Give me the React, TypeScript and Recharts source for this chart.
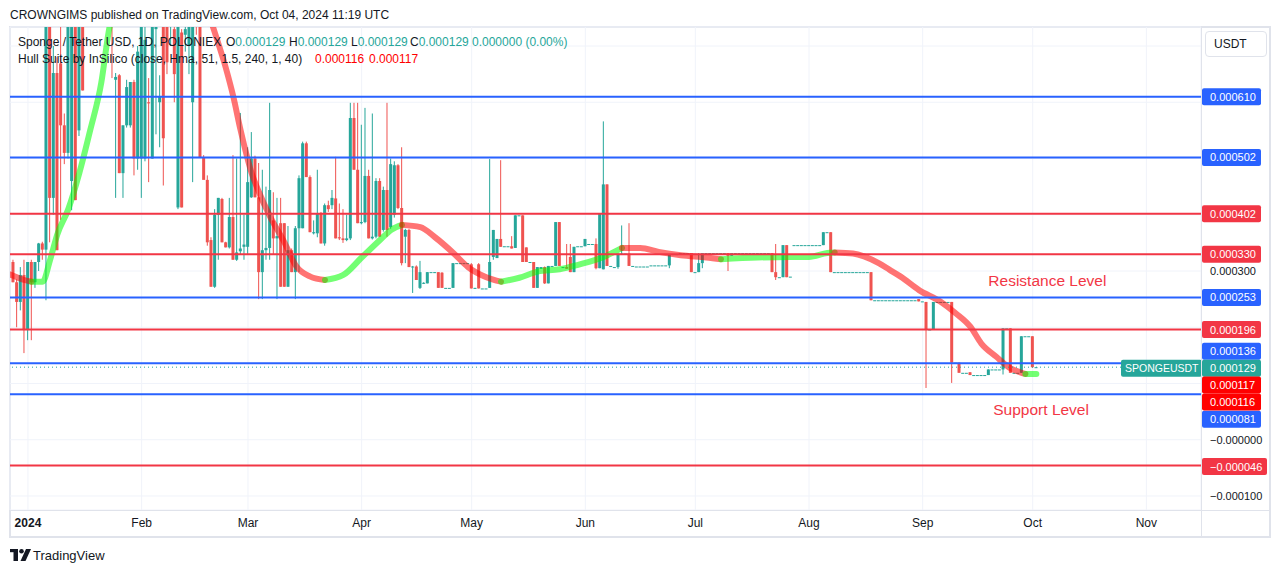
import React from 'react';
import {
  ComposedChart,
  Bar,
  Line,
  XAxis,
  YAxis,
  CartesianGrid,
  ReferenceLine,
  ReferenceDot,
} from 'recharts';

// All prices below are expressed in millionths of USDT (129 => 0.000129)
const UNIT = 1e-6;

// Daily candles: [day (0 = Jan 1 2024), open, high, low, close]
const candles: [number, number, number, number, number][] = [
  [-4, 316, 320, 280, 280], [-3, 280, 285, 200, 245], [-2, 245, 307, 230, 293], [-1, 293, 320, 154, 195],
  // January
  [0, 195, 316, 177, 316], [1, 316, 320, 177, 280], [2, 280, 316, 270, 316], [3, 316, 350, 300, 349],
  [4, 349, 352, 320, 338], [5, 338, 780, 248, 780], [6, 780, 790, 351, 430], [7, 430, 700, 400, 652],
  [8, 652, 680, 337, 337], [9, 669, 760, 391, 559], [10, 559, 580, 490, 510], [11, 510, 780, 500, 760],
  [12, 460, 790, 408, 770], [13, 780, 790, 426, 426], [14, 550, 790, 540, 780], [15, 780, 790, 621, 621],
  [16, 780, 880, 760, 860], [17, 860, 900, 800, 820], [18, 820, 950, 800, 930], [19, 930, 960, 850, 870],
  [20, 870, 1000, 860, 980], [21, 980, 1000, 900, 920], [22, 920, 950, 780, 800], [23, 760, 780, 643, 750],
  [24, 640, 652, 430, 645], [25, 648, 650, 474, 474], [26, 474, 559, 430, 559], [27, 559, 640, 555, 627],
  [28, 559, 636, 555, 636], [29, 636, 640, 470, 500], [30, 500, 700, 480, 690],
  // February
  [31, 500, 790, 430, 780], [32, 500, 790, 495, 711], [33, 600, 643, 458, 598], [34, 500, 790, 500, 780],
  [35, 730, 790, 543, 760], [36, 600, 648, 520, 610], [37, 780, 790, 452, 536], [38, 780, 790, 650, 671],
  [39, 740, 790, 700, 780], [40, 730, 760, 600, 650], [41, 413, 790, 410, 780], [42, 724, 730, 413, 413],
  [43, 720, 740, 690, 730], [44, 700, 760, 650, 740], [45, 600, 790, 458, 760], [46, 780, 790, 720, 760],
  [47, 780, 790, 502, 502], [48, 502, 506, 470, 462], [49, 462, 470, 345, 351], [50, 355, 360, 272, 272],
  [51, 272, 410, 270, 400], [52, 400, 430, 320, 430], [53, 428, 430, 351, 351], [54, 351, 352, 342, 342],
  [55, 342, 430, 340, 396], [56, 396, 506, 320, 320], [57, 320, 500, 318, 333], [58, 335, 581, 330, 340],
  [59, 343, 400, 320, 347],
  // March
  [60, 343, 520, 330, 458], [61, 431, 547, 430, 500], [62, 500, 505, 431, 431], [63, 431, 492, 250, 298],
  [64, 298, 480, 250, 337], [65, 337, 450, 320, 341], [66, 341, 599, 320, 444], [67, 390, 440, 330, 358],
  [68, 358, 430, 250, 362], [69, 385, 430, 272, 272], [70, 385, 385, 272, 272], [71, 272, 380, 272, 337],
  [72, 337, 340, 298, 298], [73, 298, 380, 250, 376], [74, 376, 470, 298, 465], [75, 376, 530, 376, 527],
  [76, 527, 530, 467, 467], [77, 467, 470, 369, 369], [78, 367, 390, 365, 369], [79, 367, 480, 360, 403],
  [80, 403, 405, 349, 349], [81, 349, 420, 345, 417], [82, 417, 425, 405, 410], [83, 417, 444, 410, 430],
  [84, 429, 503, 358, 358], [85, 360, 420, 355, 358], [86, 358, 410, 350, 355], [87, 355, 400, 353, 358],
  [88, 358, 599, 355, 572], [89, 572, 599, 480, 480], [90, 480, 599, 385, 385],
  // April
  [91, 385, 560, 383, 387], [92, 387, 590, 385, 469], [93, 469, 480, 358, 358], [94, 358, 580, 356, 361],
  [95, 361, 465, 358, 460], [96, 460, 465, 361, 361], [97, 373, 450, 370, 444], [98, 444, 599, 361, 373],
  [99, 378, 500, 375, 490], [100, 400, 495, 395, 488], [101, 488, 490, 410, 412], [102, 412, 520, 310, 314],
  [103, 361, 375, 314, 373], [104, 373, 375, 307, 307], [105, 307, 309, 261, 308], [106, 308, 310, 284, 284],
  [107, 270, 318, 268, 298], [108, 278, 280, 277, 279], [109, 278, 298, 278, 298], [110, 298, 298, 298, 298],
  [111, 298, 298, 297, 298], [112, 298, 298, 270, 270], [113, 297, 298, 270, 270], [114, 270, 270, 270, 270],
  [115, 270, 270, 270, 270], [116, 270, 314, 270, 314], [117, 314, 314, 314, 314], [118, 314, 314, 314, 314],
  [119, 314, 314, 314, 314], [120, 314, 314, 314, 314],
  // May
  [121, 312, 314, 269, 269], [122, 270, 270, 269, 270], [123, 312, 314, 269, 269], [124, 269, 269, 269, 269],
  [125, 269, 269, 269, 269], [126, 270, 499, 270, 316], [127, 325, 373, 320, 373], [128, 323, 357, 323, 357],
  [129, 357, 497, 343, 343], [130, 344, 344, 344, 344], [131, 344, 344, 344, 344], [132, 344, 362, 340, 340],
  [133, 341, 399, 341, 399], [134, 399, 399, 399, 399], [135, 399, 399, 316, 316], [136, 342, 342, 316, 316],
  [137, 316, 316, 316, 316], [138, 316, 316, 270, 270], [139, 270, 307, 270, 307], [140, 304, 307, 304, 307],
  [141, 307, 308, 277, 278], [142, 278, 309, 278, 309], [143, 309, 309, 309, 309], [144, 309, 387, 309, 387],
  [145, 387, 387, 309, 309], [146, 307, 307, 307, 307], [147, 307, 348, 304, 304], [148, 325, 348, 298, 298],
  [149, 298, 343, 298, 343], [150, 344, 344, 344, 344], [151, 344, 344, 344, 344],
  // June
  [152, 344, 357, 344, 357], [153, 348, 348, 348, 348], [154, 348, 348, 348, 348], [155, 348, 358, 303, 305],
  [156, 305, 403, 305, 403], [157, 303, 566, 303, 454], [158, 454, 454, 309, 309], [159, 309, 309, 309, 309],
  [160, 307, 307, 307, 307], [161, 307, 331, 304, 331], [162, 330, 381, 330, 331], [163, 331, 331, 331, 331],
  [164, 331, 385, 309, 309], [165, 309, 309, 309, 309], [166, 308, 308, 308, 308], [167, 308, 308, 308, 308],
  [168, 308, 308, 308, 308], [169, 308, 308, 308, 308], [170, 310, 310, 310, 310], [171, 310, 310, 310, 310],
  [172, 310, 310, 310, 310], [173, 310, 310, 310, 310], [174, 310, 310, 310, 310], [175, 310, 330, 305, 330],
  [176, 330, 330, 330, 330], [177, 330, 330, 330, 330], [178, 330, 332, 329, 332], [179, 332, 332, 332, 332],
  [180, 332, 332, 332, 332], [181, 332, 332, 298, 298],
  // July
  [182, 298, 298, 298, 298], [183, 298, 332, 298, 314], [184, 314, 332, 305, 332], [185, 332, 332, 332, 332],
  [186, 332, 332, 332, 332], [187, 332, 332, 332, 332], [188, 332, 332, 332, 332], [189, 332, 332, 332, 332],
  [190, 332, 332, 332, 332], [191, 332, 332, 300, 327], [192, 327, 332, 327, 332], [193, 332, 332, 332, 332],
  [194, 332, 332, 332, 332], [195, 332, 332, 332, 332], [196, 332, 332, 332, 332], [197, 332, 332, 332, 332],
  [198, 332, 332, 332, 332], [199, 332, 332, 332, 332], [200, 332, 332, 332, 332], [201, 332, 332, 332, 332],
  [202, 332, 332, 332, 332], [203, 332, 332, 298, 298], [204, 298, 348, 284, 289], [205, 289, 289, 289, 289],
  [206, 289, 346, 289, 346], [207, 346, 346, 289, 289], [208, 290, 290, 290, 290], [209, 346, 346, 346, 346],
  [210, 346, 346, 346, 346], [211, 346, 346, 346, 346], [212, 346, 346, 346, 346],
  // August
  [213, 346, 346, 346, 346], [214, 346, 346, 346, 346], [215, 346, 346, 346, 346], [216, 346, 346, 346, 346],
  [217, 346, 369, 346, 369], [218, 369, 369, 369, 369], [219, 369, 369, 298, 298], [220, 298, 298, 298, 298],
  [221, 298, 298, 298, 298], [222, 298, 298, 298, 298], [223, 298, 298, 298, 298], [224, 298, 298, 298, 298],
  [225, 298, 298, 298, 298], [226, 298, 298, 298, 298], [227, 298, 298, 298, 298], [228, 298, 298, 298, 298],
  [229, 298, 298, 298, 298], [230, 298, 298, 248, 248], [231, 248, 248, 248, 248], [232, 248, 248, 248, 248],
  [233, 248, 248, 248, 248], [234, 248, 248, 248, 248], [235, 248, 248, 248, 248], [236, 248, 248, 248, 248],
  [237, 248, 248, 248, 248], [238, 248, 248, 248, 248], [239, 248, 248, 248, 248], [240, 248, 248, 248, 248],
  [241, 248, 248, 248, 248], [242, 248, 248, 248, 248], [243, 250, 250, 246, 246],
  // September
  [244, 246, 246, 246, 246], [245, 245, 245, 92, 196], [246, 196, 196, 196, 196], [247, 196, 245, 196, 245],
  [248, 245, 245, 245, 245], [249, 245, 245, 245, 245], [250, 245, 245, 245, 245], [251, 245, 245, 245, 245],
  [252, 245, 245, 101, 137], [253, 137, 137, 137, 137], [254, 137, 137, 119, 119], [255, 119, 119, 119, 119],
  [256, 119, 119, 119, 119], [257, 120, 120, 115, 115], [258, 115, 115, 115, 115], [259, 115, 115, 115, 115],
  [260, 115, 115, 115, 115], [261, 115, 115, 115, 115], [262, 115, 125, 115, 125], [263, 125, 125, 125, 125],
  [264, 125, 125, 125, 125], [265, 125, 125, 125, 125], [266, 125, 198, 116, 198], [267, 198, 198, 198, 198],
  [268, 198, 198, 119, 119], [269, 119, 119, 119, 119], [270, 119, 119, 119, 119], [271, 119, 184, 119, 184],
  [272, 184, 184, 184, 184], [273, 184, 184, 184, 184],
  // October
  [274, 184, 184, 128, 129], [275, 129, 129, 129, 129],
];

// Hull Suite band, read as coloured segments (up = green, down = red)
const hullSegments: { trend: 'up' | 'down'; days: number[]; values: number[] }[] = [
  { trend: 'down', days: [-5, -3, -1, 1], values: [294, 289, 284, 281] },
  { trend: 'up', days: [1, 4, 6, 8, 11, 14, 17, 20, 22, 25, 30, 35, 38], values: [281, 281, 319, 365, 410, 474, 551, 635, 725, 800, 880, 920, 925] },
  { trend: 'down', days: [38, 42, 46, 51, 54, 56, 58, 61, 63, 66, 70, 73, 77, 81], values: [925, 900, 820, 723, 660, 610, 550, 474, 440, 397, 350, 310, 290, 284] },
  { trend: 'up', days: [81, 86, 91, 96, 99, 102], values: [284, 293, 324, 355, 373, 382] },
  { trend: 'down', days: [102, 107, 111, 116, 120, 125, 129], values: [382, 378, 360, 332, 307, 289, 281] },
  { trend: 'up', days: [129, 134, 139, 145, 150, 157, 162], values: [281, 288, 299, 303, 311, 325, 341] },
  { trend: 'down', days: [162, 167, 172, 178, 185, 189], values: [341, 341, 334, 328, 324, 321] },
  { trend: 'up', days: [189, 199, 208, 213, 218, 220], values: [321, 324, 325, 325, 332, 333] },
  { trend: 'down', days: [220, 225, 228, 232, 235, 238, 243, 249, 253, 257, 260, 264, 268, 271, 272], values: [333, 331, 326, 314, 302, 290, 266, 245, 225, 201, 171, 148, 127, 119, 117] },
  { trend: 'up', days: [272, 275], values: [117, 117] },
];
const hullLegendValues = [116, 117];

// Time axis
const monthTickDays = [0, 31, 60, 91, 121, 152, 182, 213, 244, 274, 305];
const monthTickLabels = ['2024', 'Feb', 'Mar', 'Apr', 'May', 'Jun', 'Jul', 'Aug', 'Sep', 'Oct', 'Nov'];

// Price axis
const priceTicks = [-100, 0, 100, 200, 300, 400, 500, 600, 700];
const shownPriceTickLabels = [-100, 0, 300];

// Horizontal levels drawn on the chart
const levelPrices = [610, 502, 402, 330, 253, 196, 136, 81, -46];
const levelKinds = ['blue', 'blue', 'red', 'red', 'blue', 'red', 'blue', 'blue', 'red'];

// ---------- styles ----------
const COLORS = {
  up: '#26a69a',
  down: '#ef5350',
  blue: '#2962ff',
  red: '#f23645',
  hull: '#ff0000',
  text: '#131722',
  grid: '#f0f3fa',
  frame: '#e0e3eb',
};
const levelTagShift = [0, 0, 0, 0, 0, 0, -12, 25, 1];
const hullTagShift = [27.5, 11];
const FONT = '"Liberation Sans", Arial, sans-serif';

const lastCandle = candles[candles.length - 1];
const lastClose = lastCandle[4];

const fmtPrice = (v: number) => (v < 0 ? '\u2212' : '') + (Math.abs(v) * UNIT).toFixed(6);
const fmtTick = (v: number) => (v <= 0 ? '\u2212' : '') + (Math.abs(v) * UNIT).toFixed(6);

// ---------- table ----------
type Row = { day: number; o?: number; h?: number; l?: number; c?: number; [k: string]: number | undefined };
const rowsByDay = new Map<number, Row>();
candles.forEach(([day, o, h, l, c]) => rowsByDay.set(day, { day, o, h, l, c }));
hullSegments.forEach((seg, s) => {
  seg.days.forEach((d, j) => {
    const r = rowsByDay.get(d) ?? { day: d };
    r[`hull${s}`] = seg.values[j];
    rowsByDay.set(d, r);
  });
});
const chartData = Array.from(rowsByDay.values()).sort((a, b) => a.day - b.day);

// ---------- shapes ----------
const Candle = (props: any) => {
  const { x, y, width, height, payload } = props;
  if (!payload || payload.o == null) return null;
  const { o, h, l, c } = payload as Required<Row>;
  const hEff = h > l ? h : h + 0.01;
  const top = Math.min(y, y + height);
  const hgt = Math.abs(height);
  const per = hgt / (hEff - l);
  const yOf = (v: number) => top + (hEff - v) * per;
  const color = c >= o ? COLORS.up : COLORS.down;
  const cx = x + width / 2;
  const bTop = yOf(Math.max(o, c));
  const bBot = yOf(Math.min(o, c));
  const bh = Math.max(1, bBot - bTop);
  return (
    <g>
      {h > l && <line x1={cx} x2={cx} y1={yOf(h)} y2={yOf(l)} stroke={color} strokeWidth={1} />}
      <rect x={x} y={bTop} width={width} height={bh} fill={color} />
    </g>
  );
};

const PriceTag = (props: any) => {
  const { viewBox, text, fill, shift = 0, wide = false, symbol } = props;
  if (!viewBox) return null;
  const x = viewBox.x + viewBox.width + 1;
  const cy = viewBox.y + shift;
  const w = wide ? 65 : 59;
  return (
    <g>
      {symbol && (
        <g>
          <rect x={x - 81} y={cy - 8.5} width={81} height={17} rx={2} fill={fill} />
          <text x={x - 77} y={cy} dominantBaseline="central" fill="#fff" fontSize={10.5} fontFamily={FONT}>
            {symbol}
          </text>
        </g>
      )}
      <rect x={x} y={cy - 8.5} width={w} height={17} rx={2} fill={fill} />
      <text x={x + 8} y={cy} dominantBaseline="central" fill="#fff" fontSize={11} fontFamily={FONT}>
        {text}
      </text>
    </g>
  );
};

const MonthTick = (props: any) => {
  const { x, y, payload } = props;
  const i = monthTickDays.indexOf(payload.value);
  const label = monthTickLabels[i] ?? '';
  return (
    <text
      x={x}
      y={y + 13}
      textAnchor="middle"
      dominantBaseline="central"
      fill={COLORS.text}
      fontSize={12}
      fontWeight={i === 0 ? 'bold' : 'normal'}
      fontFamily={FONT}
    >
      {label}
    </text>
  );
};

const PriceTick = (props: any) => {
  const { x, y, payload } = props;
  if (!shownPriceTickLabels.includes(payload.value)) return null;
  return (
    <text x={x} y={y} textAnchor="start" dominantBaseline="central" fill={COLORS.text} fontSize={11} fontFamily={FONT}>
      {fmtTick(payload.value)}
    </text>
  );
};

const TVLogo = () => (
  <svg width={22} height={12} viewBox="0 0 22 12" style={{ position: 'absolute', left: 10, top: 549 }}>
    <rect x={0} y={0} width={8} height={3.2} fill={COLORS.text} />
    <rect x={3.5} y={0} width={4.5} height={12} fill={COLORS.text} />
    <circle cx={11.5} cy={2.3} r={2.3} fill={COLORS.text} />
    <polygon points="16,0 21,0 15.5,12 10.5,12" fill={COLORS.text} />
  </svg>
);

const abs = (left: number, top: number, extra: React.CSSProperties = {}): React.CSSProperties => ({
  position: 'absolute',
  left,
  top,
  whiteSpace: 'pre',
  fontSize: 12,
  lineHeight: '14px',
  color: COLORS.text,
  fontFamily: FONT,
  ...extra,
});

export default function App() {
  const ohlcLabel = (letter: string, v: number, left: number) => (
    <div style={abs(left, 35)}>
      {letter}
      <span style={{ color: COLORS.up }}>{fmtPrice(v)}</span>
    </div>
  );
  const [, o, h, l, c] = lastCandle;
  return (
    <div style={{ position: 'absolute', left: 0, top: 0, width: 1281, height: 573, background: '#fff', fontFamily: FONT }}>
      <div style={abs(10, 8)}>CROWNGIMS published on TradingView.com, Oct 04, 2024 11:19 UTC</div>

      {/* frame */}
      <div style={{ position: 'absolute', left: 9, top: 26, width: 1262, height: 512, border: `2px solid ${COLORS.frame}`, boxSizing: 'border-box' }} />

      <div style={{ position: 'absolute', left: 0, top: 0 }}>
        <ComposedChart width={1281} height={573} data={chartData} margin={{ top: 27, right: 11, bottom: 36, left: 10 }}>
          <CartesianGrid stroke={COLORS.grid} />
          <XAxis
            dataKey="day"
            type="number"
            domain={[-4.9, 319.9]}
            allowDataOverflow
            ticks={monthTickDays}
            interval={0}
            height={27}
            axisLine={false}
            tickLine={false}
            tickSize={0}
            tickMargin={0}
            tick={<MonthTick />}
          />
          <YAxis
            orientation="right"
            type="number"
            domain={[-124.9, 733.8]}
            allowDataOverflow
            ticks={priceTicks}
            interval={0}
            width={69}
            axisLine={false}
            tickLine={false}
            tickSize={0}
            tickMargin={9}
            tick={<PriceTick />}
          />
          <Bar
            dataKey={(r: Row) => (r.o == null ? null : [r.l as number, (r.h as number) > (r.l as number) ? (r.h as number) : (r.h as number) + 0.01])}
            barSize={3}
            shape={(p: any) => <Candle {...p} />}
            isAnimationActive={false}
          />
          {hullSegments.map((seg, s) => (
            <Line
              key={`hull${s}`}
              dataKey={`hull${s}`}
              type="monotone"
              stroke={seg.trend === 'up' ? '#00ff00' : '#ff0000'}
              strokeOpacity={0.55}
              strokeWidth={6}
              strokeLinecap="round"
              dot={false}
              activeDot={false}
              connectNulls
              isAnimationActive={false}
            />
          ))}
          {levelPrices.map((p, i) => {
            const color = levelKinds[i] === 'blue' ? COLORS.blue : COLORS.red;
            return (
              <ReferenceLine
                key={`lvl${p}`}
                y={p}
                stroke={color}
                strokeWidth={2}
                label={<PriceTag text={fmtPrice(p)} fill={color} shift={levelTagShift[i]} wide={p < 0} />}
              />
            );
          })}
          <ReferenceLine
            y={lastClose}
            stroke={COLORS.up}
            strokeWidth={1}
            strokeDasharray="1 3"
            label={<PriceTag text={fmtPrice(lastClose)} fill={COLORS.up} shift={1} symbol="SPONGEUSDT" />}
          />
          {hullLegendValues.map((v, i) => (
            <ReferenceLine
              key={`hv${i}`}
              y={v}
              stroke="none"
              label={<PriceTag text={fmtPrice(v)} fill={COLORS.hull} shift={hullTagShift[i]} />}
            />
          ))}
          <ReferenceDot
            x={278}
            y={284}
            r={0}
            fill="none"
            stroke="none"
            ifOverflow="visible"
            label={{ value: 'Resistance Level', position: 'center', fill: COLORS.red, fontSize: 15.5, fontFamily: FONT }}
          />
          <ReferenceDot
            x={276.3}
            y={53}
            r={0}
            fill="none"
            stroke="none"
            ifOverflow="visible"
            label={{ value: 'Support Level', position: 'center', fill: COLORS.red, fontSize: 15.5, fontFamily: FONT }}
          />
        </ComposedChart>
      </div>

      {/* axis separators */}
      <div style={{ position: 'absolute', left: 10, top: 510, width: 1260, height: 1, background: COLORS.frame }} />
      <div style={{ position: 'absolute', left: 1201, top: 27, width: 1, height: 510, background: COLORS.frame }} />

      {/* legend */}
      <div style={abs(18, 35)}>Sponge / Tether USD, 1D, POLONIEX</div>
      {ohlcLabel('O', o, 226)}
      {ohlcLabel('H', h, 289)}
      {ohlcLabel('L', l, 351)}
      {ohlcLabel('C', c, 410)}
      <div style={abs(472, 35, { color: COLORS.up })}>{`${fmtPrice(c - o)} (0.00%)`}</div>
      <div style={abs(18, 52)}>Hull Suite by InSilico (close, Hma, 51, 1.5, 240, 1, 40)</div>
      <div style={abs(315, 52, { color: COLORS.hull })}>{fmtPrice(hullLegendValues[0])}</div>
      <div style={abs(369, 52, { color: COLORS.hull })}>{fmtPrice(hullLegendValues[1])}</div>

      {/* currency button */}
      <div
        style={{
          position: 'absolute',
          left: 1205,
          top: 31,
          width: 62,
          height: 26,
          boxSizing: 'border-box',
          border: `1px solid ${COLORS.frame}`,
          borderRadius: 4,
          background: '#fff',
          fontSize: 12,
          lineHeight: '24px',
          paddingLeft: 8,
          color: COLORS.text,
          fontFamily: FONT,
        }}
      >
        USDT
      </div>

      {/* footer */}
      <TVLogo />
      <div style={abs(33, 548, { fontSize: 13, lineHeight: '15px' })}>TradingView</div>
    </div>
  );
}
